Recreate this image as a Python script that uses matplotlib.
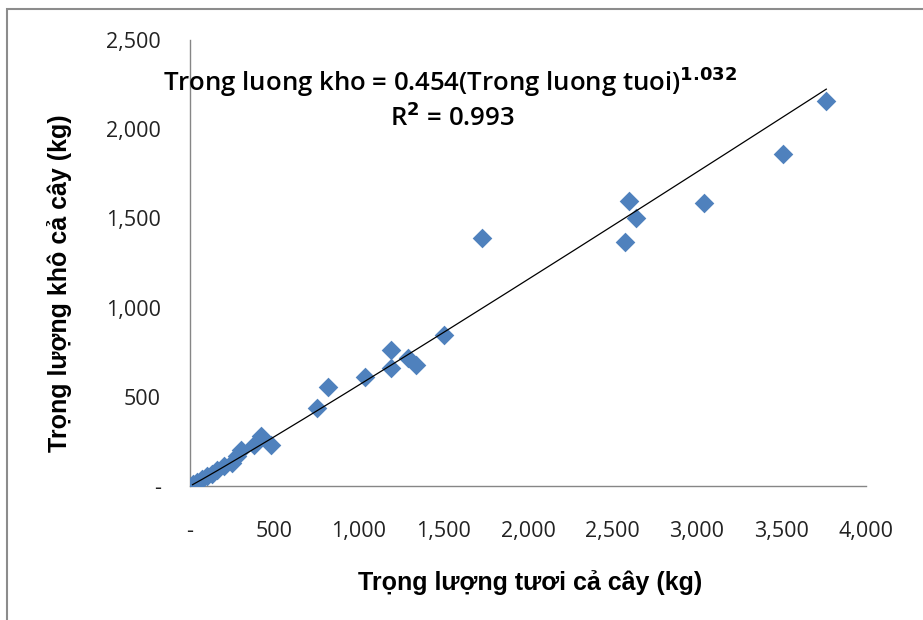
import matplotlib
matplotlib.use("Agg")
import matplotlib.pyplot as plt
import numpy as np
from matplotlib.ticker import FuncFormatter
from matplotlib.patches import Rectangle

fresh_weight = [15, 40, 70, 100, 130, 160, 200, 250, 280, 300, 380, 420, 480,
                750, 815, 1035, 1190, 1190, 1290, 1340, 1500, 1725,
                2575, 2600, 2640, 3040, 3510, 3765]
dry_weight = [10, 25, 40, 55, 70, 90, 110, 130, 170, 200, 230, 280, 230,
              435, 555, 610, 765, 660, 720, 680, 845, 1390,
              1365, 1600, 1505, 1585, 1860, 2160]
coef_a = 0.454
coef_b = 1.032
x_ticks = [0, 500, 1000, 1500, 2000, 2500, 3000, 3500, 4000]
y_ticks = [0, 500, 1000, 1500, 2000, 2500]

fig = plt.figure(figsize=(9.23, 6.2), dpi=100)
ax = fig.add_axes([190/923, 1-486/620, (866-190)/923, (486-40)/620])

# figure border (partial frame)
fig.patches.append(Rectangle((7/923, -0.1), 1.2, 1-9/620+0.1, transform=fig.transFigure,
                             fill=False, edgecolor='#8c8c8c', linewidth=1.5))

ax.scatter(fresh_weight, dry_weight, marker='D', s=100, color='#4F81BD', zorder=3, linewidths=0)

xf = np.linspace(min(fresh_weight), max(fresh_weight), 200)
ax.plot(xf, coef_a * xf ** coef_b, color='black', linewidth=0.9, zorder=4)

ax.set_xlim(0, 4000)
ax.set_ylim(0, 2500)
ax.set_xticks(x_ticks)
ax.set_yticks(y_ticks)
fmt = FuncFormatter(lambda v, p: '-' if v == 0 else f'{int(v):,}')
ax.xaxis.set_major_formatter(fmt)
ax.yaxis.set_major_formatter(fmt)
for lab in ax.get_xticklabels() + ax.get_yticklabels():
    lab.set_fontfamily('Open Sans')
    lab.set_fontsize(15.5)
    lab.set_color('#222222')
ax.tick_params(axis='both', length=0)
ax.tick_params(axis='x', pad=25)
ax.tick_params(axis='y', pad=21)
for s in ['top', 'right']:
    ax.spines[s].set_visible(False)
for s in ['left', 'bottom']:
    ax.spines[s].set_color('#868686')
    ax.spines[s].set_linewidth(1.0)

lab_font = dict(family=['Liberation Sans'], weight='bold', size=18)
fig.text(530/923, 1-583/620, 'Trọng lượng tươi cả cây (kg)', ha='center', va='center', **lab_font)
fig.text(60/923, 1-283/620, 'Trọng lượng khô cả cây (kg)', ha='center', va='center', rotation=90, **lab_font)

eq_font = dict(family='Open Sans', weight='semibold', size=18.5)
fig.text(450/923, 1-82/620, 'Trong luong kho = 0.454(Trong luong tuoi)$^{\\mathbf{1.032}}$',
         ha='center', va='center', **eq_font)
fig.text(452/923, 1-118/620, 'R$^{\\mathbf{2}}$ = 0.993', ha='center', va='center', **eq_font)

fig.savefig('out.png', dpi=100)
